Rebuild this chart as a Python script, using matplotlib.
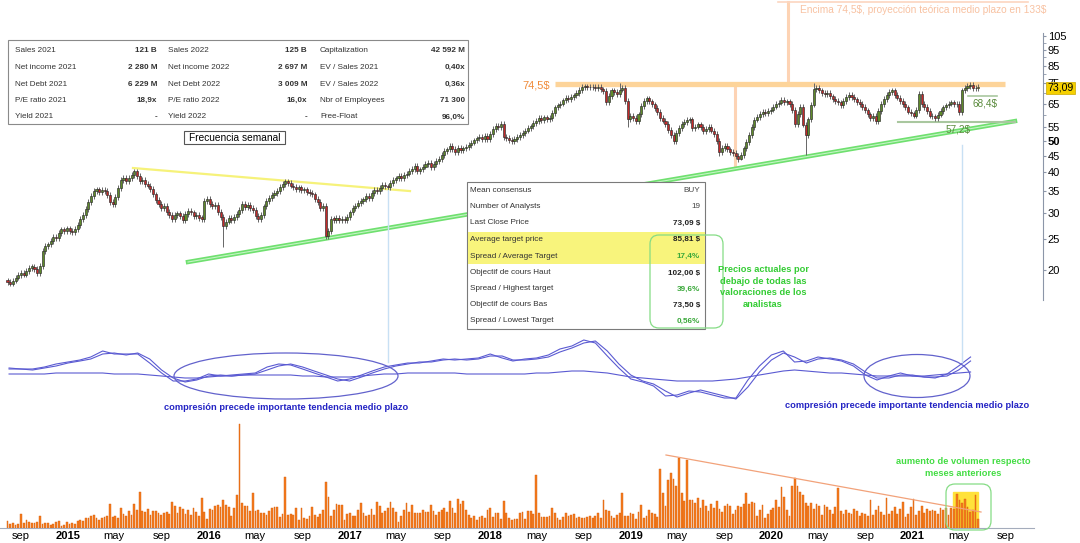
import numpy as np
import pandas as pd
import matplotlib
matplotlib.use('Agg')
import matplotlib.pyplot as plt
import matplotlib.dates as mdates
from matplotlib.patches import Rectangle, Ellipse, FancyBboxPatch
from matplotlib.ticker import NullFormatter

# ---------------------------------------------------------------- data
first_week = '2014-07-28'

closes = [
    18.4, 18.2, 18.6, 19.0, 19.3, 19.6, 19.4, 19.9, 20.3, 20.5,
    20.2, 19.6, 20.6, 22.9, 23.7, 24.0, 24.6, 25.3, 25.1, 26.0,
    26.7, 26.4, 26.9, 26.4, 26.2, 26.8, 27.5, 28.8, 29.6, 30.8,
    32.4, 33.8, 35.1, 35.4, 34.7, 35.2, 35.0, 34.1, 32.4, 32.0,
    33.6, 35.8, 37.9, 38.5, 37.6, 38.4, 39.3, 40.2, 38.9, 37.5,
    37.9, 36.8, 36.4, 35.6, 34.2, 32.8, 31.9, 31.0, 31.6, 30.2,
    29.5, 28.8, 29.6, 29.9, 29.4, 28.6, 29.8, 30.5, 30.1, 29.3,
    29.6, 29.0, 28.8, 32.7, 33.2, 32.0, 31.4, 31.8, 30.2, 29.1,
    27.4, 28.2, 28.9, 28.6, 29.2, 29.8, 30.6, 32.0, 31.2, 31.8,
    31.0, 30.6, 29.4, 28.8, 29.5, 31.4, 32.6, 33.4, 34.0, 34.6,
    35.1, 36.0, 36.8, 37.5, 37.0, 36.4, 36.1, 35.6, 35.9, 35.2,
    35.4, 34.8, 34.5, 34.2, 33.1, 32.4, 31.0, 31.6, 25.5, 26.4,
    28.8, 28.6, 28.9, 28.5, 28.8, 28.5, 29.2, 30.1, 31.0, 31.6,
    32.2, 32.6, 33.0, 33.8, 33.4, 34.6, 35.3, 35.0, 35.8, 36.5,
    36.2, 36.0, 37.1, 37.8, 38.3, 39.0, 38.4, 39.2, 39.6, 40.4,
    41.0, 41.7, 40.2, 40.8, 41.6, 42.3, 42.7, 41.5, 42.4, 43.2,
    44.0, 45.2, 46.4, 47.0, 48.1, 47.2, 46.0, 47.5, 46.8, 47.3,
    47.9, 48.4, 49.3, 50.1, 50.8, 51.4, 50.7, 51.6, 50.6, 52.4,
    54.2, 55.5, 55.0, 56.2, 51.4, 50.9, 50.2, 49.8, 50.6, 51.2,
    52.0, 52.9, 53.7, 54.6, 55.3, 56.6, 57.4, 58.6, 57.8, 58.9,
    58.2, 58.6, 60.8, 63.2, 64.1, 65.0, 66.4, 67.7, 67.0, 68.2,
    68.8, 70.1, 71.6, 73.0, 73.4, 72.8, 73.2, 73.0, 72.4, 72.9,
    71.8, 71.0, 65.5, 68.7, 71.3, 70.6, 69.4, 71.7, 72.5, 66.3,
    58.1, 59.5, 58.6, 57.5, 60.2, 63.8, 66.3, 67.4, 66.0, 64.6,
    63.0, 61.2, 58.8, 57.6, 56.2, 54.0, 52.1, 49.9, 52.8, 54.6,
    56.2, 57.0, 57.9, 58.1, 54.6, 55.2, 56.1, 55.0, 53.4, 54.3,
    55.0, 53.7, 52.5, 49.8, 46.2, 47.5, 48.3, 47.0, 46.1, 45.8,
    44.9, 44.0, 45.2, 47.3, 49.6, 52.0, 55.1, 58.0, 59.2, 60.4,
    61.3, 60.6, 61.8, 62.3, 63.6, 64.8, 65.4, 66.5, 65.7, 66.0,
    64.8, 62.0, 56.2, 60.5, 63.4, 56.0, 52.0, 58.1, 64.5, 71.8,
    72.4, 71.3, 70.1, 69.4, 70.2, 68.3, 67.0, 66.1, 65.5, 64.4,
    66.2, 68.0, 69.0, 68.0, 66.9, 65.8, 64.8, 63.4, 61.9, 60.2,
    58.8, 59.6, 57.5, 61.8, 64.9, 67.0, 68.9, 70.4, 71.3, 69.2,
    67.8, 66.3, 64.9, 63.2, 61.4, 60.6, 59.7, 62.2, 69.4, 64.8,
    63.4, 61.8, 59.7, 59.3, 58.8, 60.1, 61.6, 63.2, 64.1, 65.0,
    65.5, 64.6, 64.8, 61.0, 71.3, 72.4, 73.6, 74.0, 72.4, 72.7,
    73.09]
first_open = 18.6
# weeks with long shadows (index: (low, high))
long_wicks = {80: (23.6, None), 118: (25.0, None), 230: (55.0, None),
              264: (44.8, None), 272: (43.5, None), 296: (45.2, None),
              227: (None, 75.0), 299: (None, 75.2), 358: (None, 75.6)}

volume = [
    7, 4, 5, 3, 4, 14, 5, 8, 6, 5,
    5, 6, 12, 4, 5, 5, 3, 4, 6, 7,
    2, 3, 6, 4, 5, 4, 7, 8, 7, 10,
    10, 12, 13, 10, 8, 10, 11, 12, 24, 11,
    12, 10, 20, 14, 12, 17, 13, 24, 18, 36,
    17, 16, 19, 13, 17, 17, 15, 13, 15, 16,
    14, 26, 22, 15, 21, 19, 14, 18, 13, 20,
    16, 12, 30, 16, 9, 19, 18, 22, 23, 21,
    28, 23, 21, 12, 20, 33, 104, 25, 22, 22,
    17, 35, 17, 18, 15, 15, 13, 17, 20, 21,
    21, 11, 14, 51, 13, 14, 13, 20, 8, 20,
    10, 9, 12, 21, 13, 11, 14, 18, 46, 31,
    12, 18, 24, 23, 23, 8, 14, 15, 12, 12,
    18, 25, 15, 12, 13, 19, 13, 26, 22, 15,
    17, 20, 26, 20, 16, 6, 12, 18, 25, 16,
    23, 15, 15, 15, 18, 16, 16, 23, 17, 13,
    16, 18, 20, 16, 27, 20, 15, 29, 24, 27,
    18, 13, 10, 12, 8, 11, 12, 10, 18, 20,
    11, 15, 15, 9, 27, 15, 10, 8, 9, 9,
    15, 16, 9, 17, 17, 14, 53, 15, 11, 11,
    11, 12, 20, 15, 10, 8, 11, 15, 12, 13,
    14, 10, 11, 10, 10, 11, 12, 10, 12, 15,
    10, 28, 18, 17, 12, 10, 13, 15, 35, 12,
    12, 15, 14, 9, 16, 23, 10, 12, 18, 15,
    14, 11, 59, 35, 22, 48, 55, 49, 42, 70,
    35, 27, 68, 28, 28, 25, 30, 20, 28, 22,
    17, 24, 20, 27, 19, 16, 22, 24, 22, 14,
    18, 22, 21, 24, 35, 24, 26, 25, 12, 18,
    23, 10, 14, 18, 20, 28, 21, 41, 31, 18,
    12, 42, 50, 42, 36, 33, 25, 22, 25, 19,
    24, 22, 13, 23, 21, 18, 14, 21, 40, 17,
    14, 18, 15, 14, 19, 17, 12, 15, 14, 12,
    28, 13, 18, 22, 16, 13, 30, 14, 17, 21,
    14, 19, 26, 11, 14, 21, 29, 13, 17, 22,
    15, 19, 17, 18, 17, 14, 20, 18, 20, 13,
    20, 19, 34, 28, 25, 29, 21, 16, 18, 33,
    9]

# monthly oscillator lines (from 2014-08)
osc_start = '2014-08-01'
osc_fast = [7, 6, 6, 8, 11, 13, 15, 18, 24, 21,
            21, 21, 12, 2, -6, -6, -4, 1, -1, 0,
            1, 2, 8, 11, 10, 6, 2, -2, -6, -4,
            0, 4, 8, 10, 12, 12, 14, 16, 15, 16,
            17, 21, 17, 14, 16, 17, 20, 26, 29, 35,
            32, 19, 7, -4, -7, -11, -21, -20, -16, -17,
            -20, -23, -23, -5, 9, 20, 24, 13, 14, 18,
            16, 14, 9, 0, -5, -1, 2, -1, -2, -3,
            1, 9, 18]
osc_mid = [6, 6, 5, 7, 9, 12, 14, 16, 21, 22,
           20, 22, 16, 5, -3, -7, -5, -1, 0, -1,
           0, 1, 5, 9, 11, 8, 4, 0, -4, -6,
           -2, 2, 6, 9, 11, 13, 13, 15, 16, 15,
           16, 19, 19, 15, 15, 16, 18, 23, 27, 32,
           34, 24, 11, 0, -6, -9, -16, -22, -18, -15,
           -18, -21, -24, -12, 3, 15, 22, 18, 12, 16,
           17, 15, 11, 3, -3, -3, 0, 0, -2, -2,
           -1, 5, 14]
osc_slow = [1, 1, 1, 1, 2, 2, 2, 2, 2, 1, 1, 1, 0,
            -1, -2, -3, -3, -2, -1, -1, 0, 0, 0, 0, 0, -1, -1, -2, -2, -2, -1,
            0, 1, 1, 2, 2, 2, 2, 2, 1, 1, 1, 1, 1, 1, 2, 2, 3, 4, 4, 3,
            2, 0, -2, -3, -4, -5, -6, -6, -6, -6, -5, -4, -2,
            0, 2, 4, 5, 4, 3, 2, 2, 1, 0, -1, -1, -1, -1, -1, 0, 1, 2, 3]

price_ticks = [20, 25, 30, 35, 40, 45, 50, 55, 65, 75, 85, 95, 105]
price_minor = [60, 70, 80, 90, 100]
last_price = 73.09
resistance = 74.5
target = 133
support_low = 57.2
support_high = 68.4

fund_rows = [
    ("Sales 2021", "121 B", "Sales 2022", "125 B", "Capitalization", "42 592 M"),
    ("Net income 2021", "2 280 M", "Net income 2022", "2 697 M", "EV / Sales 2021", "0,40x"),
    ("Net Debt 2021", "6 229 M", "Net Debt 2022", "3 009 M", "EV / Sales 2022", "0,36x"),
    ("P/E ratio 2021", "18,9x", "P/E ratio 2022", "16,0x", "Nbr of Employees", "71 300"),
    ("Yield 2021", "-", "Yield 2022", "-", "Free-Float", "96,0%"),
]
cons_labels = ["Mean consensus", "Number of Analysts", "Last Close Price",
               "Average target price", "Spread / Average Target",
               "Objectif de cours Haut", "Spread / Highest target",
               "Objectif de cours Bas", "Spread / Lowest Target"]
cons_values = ["BUY", "19", "73,09 $", "85,81 $", "17,4%", "102,00 $",
               "39,6%", "73,50 $", "0,56%"]

# ---------------------------------------------------------------- layout
W, H = 1080, 543
plt.rcParams['font.family'] = ['Liberation Sans', 'DejaVu Sans']
fig = plt.figure(figsize=(W / 100, H / 100), dpi=100)

ref = mdates.date2num(pd.Timestamp('2015-01-01'))
PX_YEAR = 140.7


def px2num(px):
    return ref + (px - 68) * 365.25 / PX_YEAR


def axes_px(x0, y0, x1, y1):
    a = fig.add_axes([x0 / W, 1 - y1 / H, (x1 - x0) / W, (y1 - y0) / H])
    a.set_facecolor('none')
    return a


weeks = pd.date_range(first_week, periods=len(closes), freq='7D')
wx = mdates.date2num(weeks)
c = np.array(closes)
o = np.concatenate([[first_open], c[:-1]])
hi = np.maximum(o, c) * 1.02
lo = np.minimum(o, c) * 0.98
for k, (l, h) in long_wicks.items():
    if l is not None:
        lo[k] = l
    if h is not None:
        hi[k] = h

# ---------------------------------------------------------------- price panel
ax = axes_px(0, 0, 1043, 330)
ax.set_xlim(px2num(0), px2num(1043))
ax.set_yscale('log')
ax.set_ylim(13.11, 135.1)
for s in ['top', 'left', 'bottom']:
    ax.spines[s].set_visible(False)
ax.spines['right'].set_bounds(16.2, 106.9)
ax.spines['right'].set_color('#8c96a8')
ax.spines['right'].set_linewidth(0.8)
ax.set_xticks([])
ax.yaxis.tick_right()
ax.set_yticks(price_ticks)
ax.set_yticklabels([str(t) for t in price_ticks])
ax.set_yticks(price_minor, minor=True)
ax.yaxis.set_minor_formatter(NullFormatter())
ax.tick_params(axis='y', which='both', direction='out', length=2.5, pad=1,
               labelsize=8, color='#8c96a8')
for lab in ax.get_yticklabels():
    if lab.get_text() == '50':
        lab.set_fontweight('bold')

up = c >= o
cols = np.where(up, '#5f8a2a', '#c42a2a')
cols[-1] = '#f0c400'
ax.vlines(wx, lo, hi, color='#666666', lw=0.7, zorder=3)
ax.bar(wx, np.maximum(np.abs(c - o), 0.25), bottom=np.minimum(o, c), width=5.4,
       color=cols, edgecolor='#2a2a2a', linewidth=0.45, zorder=4)

# trend lines and levels
ax.plot([px2num(133), px2num(410)], [41.2, 35.0], color='#f6f27a', lw=1.6, zorder=2)
sup_x = [px2num(188), px2num(1015)]
sup_y = [21.2, 57.4]
ax.plot(sup_x, sup_y, color='#6fe06f', lw=3.2, zorder=2)
ax.plot(sup_x, sup_y, color='#c4f4c4', lw=0.8, zorder=2)
ax.plot([px2num(555), px2num(1005)], [resistance, resistance], color='#fdd49a',
        lw=3.8, zorder=2, solid_capstyle='butt')
ax.plot([px2num(735)] * 2, [resistance, 41.5], color='#fdd3b4', lw=2.2, zorder=1)
ax.plot([px2num(788)] * 2, [resistance, target], color='#fdd3b4', lw=2.2,
        zorder=1, clip_on=False)
ax.plot([px2num(778), px2num(1028)], [target, target], color='#fcd6c0', lw=1.2,
        zorder=1, clip_on=False)
ax.plot([px2num(898), px2num(1015)], [support_low, support_low], color='#a9c79f',
        lw=1.5, zorder=2)
ax.plot([px2num(968), px2num(997)], [support_high, support_high], color='#a9c79f',
        lw=1.2, zorder=2)

# ---------------------------------------------------------------- oscillator
ax_o = axes_px(0, 330, 1080, 420)
ax_o.set_xlim(px2num(0), px2num(1080))
ax_o.set_ylim(-45, 45)
ax_o.axis('off')
months = mdates.date2num(pd.date_range(osc_start, periods=len(osc_fast), freq='MS'))
for series in (osc_fast, osc_mid, osc_slow):
    ax_o.plot(months, series, color='#5a5ad2', lw=0.8)

# ---------------------------------------------------------------- volume
ax_v = axes_px(0, 415, 1080, 528)
ax_v.set_xlim(px2num(0), px2num(1080))
ax_v.set_ylim(0, 113)
for s in ['top', 'left', 'right']:
    ax_v.spines[s].set_visible(False)
ax_v.spines['bottom'].set_bounds(px2num(0), px2num(1034))
ax_v.spines['bottom'].set_color('#a4acbc')
ax_v.spines['bottom'].set_linewidth(0.8)
ax_v.set_yticks([])
ax_v.add_patch(Rectangle((px2num(953), 0), px2num(978) - px2num(953), 36,
                         color='#ffe23a', zorder=1))
ax_v.bar(wx, volume, width=4.6, color='#f47b1e', edgecolor='#d8600c',
         linewidth=0.3, zorder=2)
ax_v.plot([px2num(666), px2num(981)], [73, 16], color='#f2a27a', lw=0.9, zorder=3)

tick_dates = [d for d in pd.date_range('2014-09-01', '2021-09-01', freq='MS')
              if d.month in (1, 5, 9)]
tick_names = {1: None, 5: 'may', 9: 'sep'}
ax_v.set_xticks(mdates.date2num(tick_dates))
ax_v.set_xticklabels([str(d.year) if d.month == 1 else tick_names[d.month]
                      for d in tick_dates])
ax_v.tick_params(axis='x', length=0, pad=2, labelsize=8)
for lab, d in zip(ax_v.get_xticklabels(), tick_dates):
    if d.month == 1:
        lab.set_fontweight('bold')

# ---------------------------------------------------------------- annotations (pixels)
ov = fig.add_axes([0, 0, 1, 1])
ov.set_xlim(0, W)
ov.set_ylim(H, 0)
ov.axis('off')

# fundamentals table
ov.add_patch(Rectangle((8, 40), 460, 84, facecolor='white', edgecolor='#8a8a8a', lw=0.8))
row_y = [51, 67.5, 84, 100.5, 117]
col_x = [(15, 'left', 'normal'), (157, 'right', 'bold'), (168, 'left', 'normal'),
         (307, 'right', 'bold'), (320, 'left', 'normal'), (465, 'right', 'bold')]
for y, row in zip(row_y, fund_rows):
    for (x, ha, fw), txt in zip(col_x, row):
        ov.text(x, y, txt, ha=ha, va='center', fontsize=5.9, fontweight=fw,
                color='#333333')

ov.add_patch(Rectangle((184, 131), 101, 13, facecolor='white', edgecolor='#555555', lw=0.8))
ov.text(234.5, 137.8, "Frecuencia semanal", ha='center', va='center', fontsize=7.3,
        color='black')

# consensus table
ov.add_patch(Rectangle((467, 182), 238, 147, facecolor='white', edgecolor='#7a7a7a', lw=0.8))
ov.add_patch(Rectangle((467.5, 232), 237, 32, facecolor='#f8f47c', edgecolor='none'))
cons_y = [191, 207, 223, 239.5, 256, 273, 289, 305, 321]
for y, lab, val in zip(cons_y, cons_labels, cons_values):
    ov.text(470, y, lab, ha='left', va='center', fontsize=5.9, color='#333333')
    if '%' in val:
        ov.text(700, y, val, ha='right', va='center', fontsize=5.9,
                fontweight='bold', color='#3aa83a')
    elif '$' in val:
        ov.text(700, y, val, ha='right', va='center', fontsize=5.9,
                fontweight='bold', color='#222222')
    else:
        ov.text(700, y, val, ha='right', va='center', fontsize=5.9, color='#444444')
ov.add_patch(FancyBboxPatch((650, 235), 73, 93, boxstyle='round,pad=0,rounding_size=9',
                            facecolor='none', edgecolor='#85dc85', lw=0.9))
ov.text(763, 287, "Precios actuales por\ndebajo de todas las\nvaloraciones de los\nanalistas",
        ha='center', va='center', fontsize=6.7, fontweight='bold', color='#33cc33',
        linespacing=1.35)

# price labels
ov.text(536, 85.5, "74,5$", ha='center', va='center', fontsize=8, color='#f08a38')
ov.text(800, 10, "Encima 74,5\\$, proyección teórica medio plazo en 133\\$", ha='left',
        va='center', fontsize=7.3, color='#f8c2a2')
ov.text(958, 129, "57,2$", ha='center', va='center', fontsize=7.2, color='#5a8a3c')
ov.text(985, 103, "68,4$", ha='center', va='center', fontsize=7.2, color='#5a8a3c')
ov.text(1047, 88, "73,09", ha='left', va='center', fontsize=7.6, color='black',
        bbox=dict(boxstyle='square,pad=0.12', facecolor='#f5d000', edgecolor='#c9a800', lw=0.5))

# link lines price -> oscillator
ov.plot([388, 388], [190, 362], color='#c8e0f4', lw=1)
ov.plot([962, 962], [145, 362], color='#c8e0f4', lw=1)

# oscillator annotations
ov.add_patch(Ellipse((286, 376), 224, 46, facecolor='none', edgecolor='#6262cc', lw=0.9))
ov.add_patch(Ellipse((917, 376), 106, 43, facecolor='none', edgecolor='#6262cc', lw=0.9))
ov.text(286, 408, "compresión precede importante tendencia medio plazo", ha='center',
        va='center', fontsize=6.7, fontweight='bold', color='#2424c4')
ov.text(907, 405, "compresión precede importante tendencia medio plazo", ha='center',
        va='center', fontsize=6.7, fontweight='bold', color='#2424c4')

# volume annotations
ov.add_patch(FancyBboxPatch((946, 484), 45, 46, boxstyle='round,pad=0,rounding_size=9',
                            facecolor='none', edgecolor='#85dc85', lw=0.9))
ov.text(963, 467.5, "aumento de volumen respecto\nmeses anteriores", ha='center',
        va='center', fontsize=6.7, fontweight='bold', color='#44dd44', linespacing=1.35)

fig.savefig('out.png', dpi=100)
